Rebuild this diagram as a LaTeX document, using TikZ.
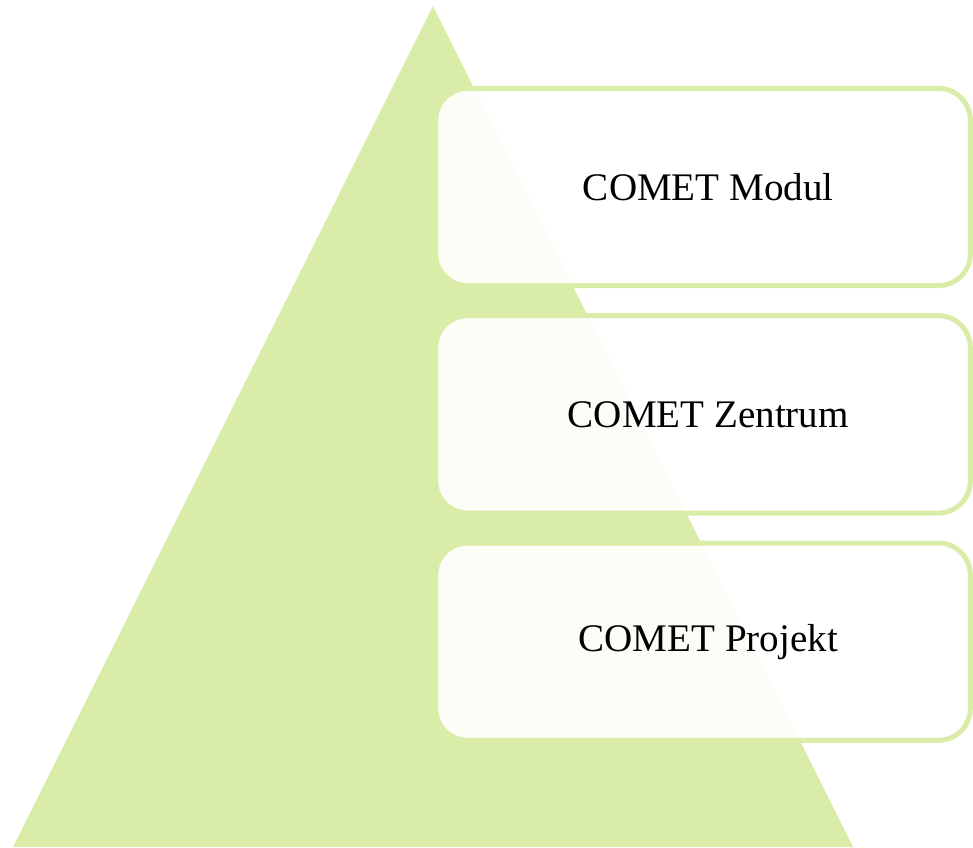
\documentclass[tikz,border=0pt]{standalone}
\usepackage{fontspec}
\setmainfont{Liberation Serif}
\usepackage{tikz}
\usetikzlibrary{positioning}

\definecolor{leafgreen}{RGB}{217,236,168}

\begin{document}
\begin{tikzpicture}[x=0.75pt, y=-0.75pt, node distance=18.75pt]

    % Define styles
    \tikzstyle{level} = [rectangle, rounded corners=24pt, minimum width=401pt, minimum height=148pt, text centered, draw=leafgreen, line width=3.75pt, fill=white, fill opacity=0.9, text opacity=1, font=\fontsize{29.3}{34}\selectfont]

    \useasboundingbox (0,0) rectangle (973,847);

    % Pyramid
    \fill [leafgreen] (433,6) -- (853,847) -- (13,847) -- cycle;

    % Nodes
    \node (modul) [level] at (703,187) {\hspace*{8pt}COMET Modul};
    \node (zentrum) [level, below=of modul] {\hspace*{8pt}COMET Zentrum};
    \node (projekt) [level, below=of zentrum] {\hspace*{8pt}COMET Projekt};

\end{tikzpicture}
\end{document}
